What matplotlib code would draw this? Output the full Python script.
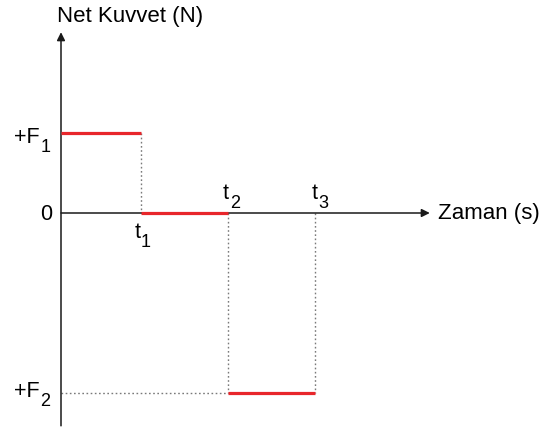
import matplotlib
matplotlib.use("Agg")
import matplotlib.pyplot as plt

plt.rcParams['font.family'] = ['Liberation Sans', 'DejaVu Sans']

# zaman noktalari (0, t1, t2, t3) ve her aralikta net kuvvet
times = [0.0, 1.0, 2.09, 3.17]
forces = [1.0, 0.0, -2.25]
time_names = [('t', '1'), ('t', '2'), ('t', '3')]
force_names = [('+F', '1'), ('0', ''), ('+F', '2')]

RED = '#e8262b'
GRAY = '#7a7a7a'
AXIS = '#1a1a1a'
MAIN_FS = 15.5
SUB_FS = 13
DROP = 0.11


def label_left(ax, x, y, main, sub):
    t = ax.text(x, y, main, fontsize=MAIN_FS, ha='left', va='baseline')
    if sub:
        ax.annotate(sub, xy=(1, y - DROP), xycoords=(t, 'data'),
                    xytext=(0.6, 0), textcoords='offset points',
                    fontsize=SUB_FS, ha='left', va='baseline')


def label_right(ax, x, y, main, sub):
    if not sub:
        ax.text(x, y, main, fontsize=MAIN_FS, ha='right', va='baseline')
        return
    s = ax.text(x, y - DROP, sub, fontsize=SUB_FS, ha='right', va='baseline')
    ax.annotate(main, xy=(0, y), xycoords=(s, 'data'),
                xytext=(-0.6, 0), textcoords='offset points',
                fontsize=MAIN_FS, ha='right', va='baseline')


fig = plt.figure(figsize=(5.47, 4.30), dpi=100)
ax = fig.add_axes([0, 0, 1, 1])
ax.set_xlim(-0.7625, 6.075)
ax.set_ylim(-2.7125, 2.6625)
ax.axis('off')

# eksenler (okla)
x_end = 4.61
y_top, y_bot = 2.26, -2.66
ax.annotate('', xy=(x_end, 0), xytext=(0, 0),
            arrowprops=dict(arrowstyle='-|>', color=AXIS, lw=1.1,
                            mutation_scale=12, shrinkA=0, shrinkB=0))
ax.annotate('', xy=(0, y_top), xytext=(0, y_bot),
            arrowprops=dict(arrowstyle='-|>', color=AXIS, lw=1.1,
                            mutation_scale=12, shrinkA=0, shrinkB=0))

# kesikli yardimci cizgiler
dot = dict(color=GRAY, lw=1.0, ls=(0, (1.2, 1.8)), zorder=2)
ax.plot([times[1], times[1]], [forces[0], 0], **dot)
ax.plot([times[2], times[2]], [0, forces[2]], **dot)
ax.plot([times[3], times[3]], [0, forces[2]], **dot)
ax.plot([0, times[2]], [forces[2], forces[2]], **dot)

# kirmizi kuvvet parcalari
for i, f in enumerate(forces):
    ax.plot([times[i], times[i + 1]], [f, f], color=RED, lw=2.3,
            solid_capstyle='butt', zorder=3)

# eksen yazilari
ax.text(0.86, 2.46, 'Net Kuvvet (N)', fontsize=16, ha='center', va='center')
ax.text(4.71, 0.0, 'Zaman (s)', fontsize=16, ha='left', va='center')

# kuvvet etiketleri
label_right(ax, -0.135, 0.875, *force_names[0])
label_right(ax, -0.11, -0.085, *force_names[1])
label_right(ax, -0.135, -2.3, *force_names[2])

# zaman etiketleri
label_left(ax, times[1] - 0.085, -0.31, *time_names[0])
label_left(ax, times[2] - 0.065, 0.175, *time_names[1])
label_left(ax, times[3] - 0.035, 0.175, *time_names[2])

fig.savefig('out.png', dpi=100)
